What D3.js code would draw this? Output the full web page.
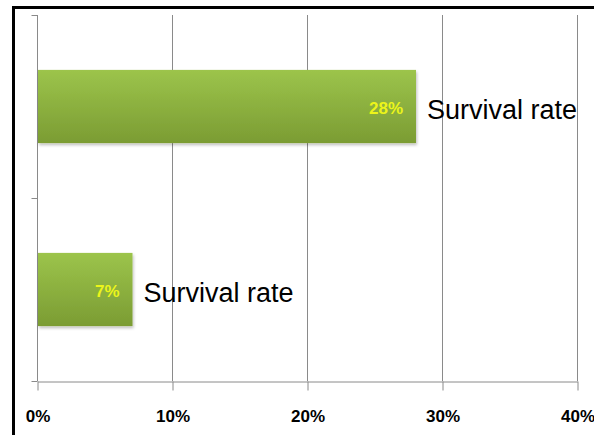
<!DOCTYPE html>
<html>
<head>
<meta charset="utf-8">
<script src="https://cdn.jsdelivr.net/npm/d3@7"></script>
<style>
  body { margin: 0; background: #fff; }
</style>
</head>
<body>
<script>
const categories = ["Survival rate A", "Survival rate B"];
const labels = ["Survival rate", "Survival rate"];
const values = [0.28, 0.07];
const ticks = [0, 0.1, 0.2, 0.3, 0.4];

const width = 594, height = 435;
const margin = {top: 15, right: 17, bottom: 54, left: 37};

const svg = d3.select("body").append("svg")
    .attr("width", width)
    .attr("height", height);

// frame (right and bottom edges fall outside the picture)
svg.append("path")
    .attr("d", `M13.5,${height + 5}V7.5H${width + 5}`)
    .attr("fill", "none")
    .attr("stroke", "#000")
    .attr("stroke-width", 3);

const x = d3.scaleLinear()
    .domain([0, 0.4])
    .range([margin.left, width - margin.right]);

const y = d3.scaleBand()
    .domain(categories)
    .range([margin.top, height - margin.bottom])
    .paddingInner(0.6)
    .paddingOuter(0.3);

const defs = svg.append("defs");
const grad = defs.append("linearGradient")
    .attr("id", "barGrad")
    .attr("x1", 0).attr("y1", 0).attr("x2", 0).attr("y2", 1);
grad.append("stop").attr("offset", "0%").attr("stop-color", "#9cc44b");
grad.append("stop").attr("offset", "100%").attr("stop-color", "#7b9c33");

const shadow = defs.append("filter").attr("id", "shadow")
    .attr("x", "-5%").attr("y", "-5%").attr("width", "115%").attr("height", "130%");
shadow.append("feDropShadow")
    .attr("dx", 1).attr("dy", 2).attr("stdDeviation", 1.5)
    .attr("flood-color", "#000").attr("flood-opacity", 0.25);

// gridlines
svg.append("g")
    .selectAll("line")
    .data(ticks.slice(1))
    .join("line")
    .attr("x1", d => x(d) + 0.5)
    .attr("x2", d => x(d) + 0.5)
    .attr("y1", margin.top)
    .attr("y2", height - margin.bottom)
    .attr("stroke", "#8a8a8a")
    .attr("stroke-width", 1);

// x axis
const yBase = height - margin.bottom;
svg.append("g")
    .attr("transform", `translate(0.5,${yBase + 0.5})`)
    .call(d3.axisBottom(x).tickValues(ticks).tickFormat(d3.format(".0%")).tickSize(9).tickPadding(19).tickSizeOuter(0))
    .call(g => g.select(".domain").attr("stroke", "#8a8a8a"))
    .call(g => g.selectAll(".tick line").attr("stroke", "#8a8a8a"))
    .call(g => g.selectAll(".tick text")
        .attr("fill", "#000")
        .attr("font-family", "Liberation Sans, Arial, sans-serif")
        .attr("font-weight", "bold")
        .attr("font-size", 17));

// y axis with boundary ticks
const yAxis = svg.append("g").attr("transform", `translate(${margin.left + 0.5},0)`);
yAxis.append("line")
    .attr("y1", margin.top).attr("y2", yBase)
    .attr("stroke", "#8a8a8a");
const bounds = [margin.top, (margin.top + yBase) / 2, yBase];
yAxis.selectAll("line.tk")
    .data(bounds)
    .join("line")
    .attr("class", "tk")
    .attr("x1", -6).attr("x2", 0)
    .attr("y1", d => Math.round(d) + 0.5).attr("y2", d => Math.round(d) + 0.5)
    .attr("stroke", "#8a8a8a");

// bars
svg.append("g")
    .selectAll("rect")
    .data(values)
    .join("rect")
    .attr("x", x(0) + 1)
    .attr("y", (d, i) => y(categories[i]))
    .attr("width", d => x(d) - x(0))
    .attr("height", y.bandwidth())
    .attr("fill", "url(#barGrad)")
    .attr("filter", "url(#shadow)");

// value labels
svg.append("g")
    .selectAll("text")
    .data(values)
    .join("text")
    .attr("x", d => x(d) - 12)
    .attr("y", (d, i) => y(categories[i]) + y.bandwidth() / 2 + 7)
    .attr("text-anchor", "end")
    .attr("fill", "#ecf51a")
    .attr("font-family", "Liberation Sans, Arial, sans-serif")
    .attr("font-weight", "bold")
    .attr("font-size", 17)
    .text(d => d3.format(".0%")(d));

// category labels
svg.append("g")
    .selectAll("text")
    .data(values)
    .join("text")
    .attr("x", d => x(d) + 12)
    .attr("y", (d, i) => y(categories[i]) + y.bandwidth() / 2 + 12)
    .attr("fill", "#000")
    .attr("font-family", "Liberation Sans, Arial, sans-serif")
    .attr("font-size", 27)
    .text((d, i) => labels[i]);
</script>
</body>
</html>
